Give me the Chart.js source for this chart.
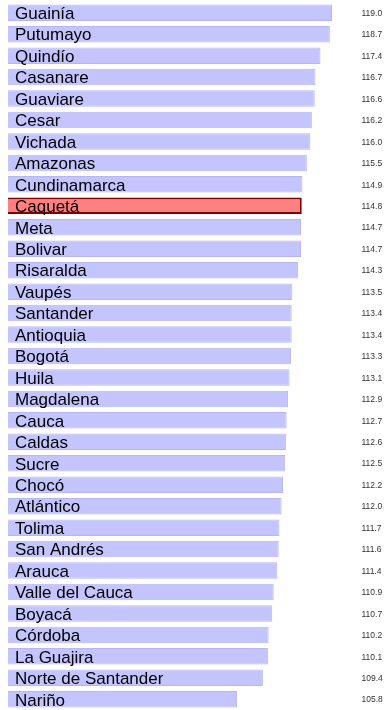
<!DOCTYPE html>
<html>
<head>
  <title>Departamentos</title>
  <style>
    body {
      margin: 0;
      background: #ffffff;
    }
    .wrap {
      width: 388px;
      height: 710px;
    }
  </style>
  <script src="https://cdn.jsdelivr.net/npm/chart.js"></script>
</head>
<body>
  <div class="wrap">
    <canvas id="dept-chart" width="388" height="710"></canvas>
  </div>

  <script>
    // departamentos y sus valores
    const departamentos = [
      "Guainía", "Putumayo", "Quindío", "Casanare", "Guaviare", "Cesar",
      "Vichada", "Amazonas", "Cundinamarca", "Caquetá", "Meta", "Bolivar",
      "Risaralda", "Vaupés", "Santander", "Antioquia", "Bogotá", "Huila",
      "Magdalena", "Cauca", "Caldas", "Sucre", "Chocó", "Atlántico",
      "Tolima", "San Andrés", "Arauca", "Valle del Cauca", "Boyacá",
      "Córdoba", "La Guajira", "Norte de Santander", "Nariño"
    ];
    const valores = [
      119.0, 118.7, 117.4, 116.7, 116.6, 116.2,
      116.0, 115.5, 114.9, 114.8, 114.7, 114.7,
      114.3, 113.5, 113.4, 113.4, 113.3, 113.1,
      112.9, 112.7, 112.6, 112.5, 112.2, 112.0,
      111.7, 111.6, 111.4, 110.9, 110.7,
      110.2, 110.1, 109.4, 105.8
    ];
    const destacado = "Caquetá";

    const relleno = departamentos.map(d => d === destacado ? "#ff8080" : "#c4c4ff");
    const borde = departamentos.map(d => d === destacado ? "#800000" : "#b6b6f2");
    const grosor = departamentos.map(d => d === destacado ? 2 : 1);

    // nombres dentro de la barra y valor a la derecha
    const etiquetas = {
      id: "etiquetas",
      afterDatasetsDraw(chart) {
        const ctx = chart.ctx;
        const y = chart.scales.y;
        ctx.save();
        ctx.textBaseline = "alphabetic";
        chart.data.labels.forEach((nombre, i) => {
          const py = y.getPixelForTick(i);
          ctx.fillStyle = "#000000";
          ctx.font = "17px 'Liberation Sans', Arial, sans-serif";
          ctx.textAlign = "left";
          ctx.fillText(nombre, 15, py + 6.3);
          ctx.fillStyle = "#333333";
          ctx.font = "8.5px 'Liberation Sans', Arial, sans-serif";
          ctx.fillText(chart.data.datasets[0].data[i].toFixed(1), 361.5, py + 3.2);
        });
        ctx.restore();
      }
    };

    const ctx = document.getElementById("dept-chart").getContext("2d");
    new Chart(ctx, {
      type: "bar",
      data: {
        labels: departamentos,
        datasets: [{
          data: valores,
          backgroundColor: relleno,
          borderColor: borde,
          borderWidth: grosor,
          borderSkipped: false,
          barPercentage: 0.77,
          categoryPercentage: 1.0
        }]
      },
      options: {
        indexAxis: "y",
        responsive: false,
        animation: false,
        layout: {
          padding: { left: 8, right: 20, top: 2, bottom: 0 }
        },
        plugins: {
          legend: { display: false },
          tooltip: { enabled: false }
        },
        scales: {
          x: {
            display: false,
            min: 74,
            max: 124
          },
          y: {
            display: false
          }
        }
      },
      plugins: [etiquetas]
    });
  </script>
</body>
</html>
